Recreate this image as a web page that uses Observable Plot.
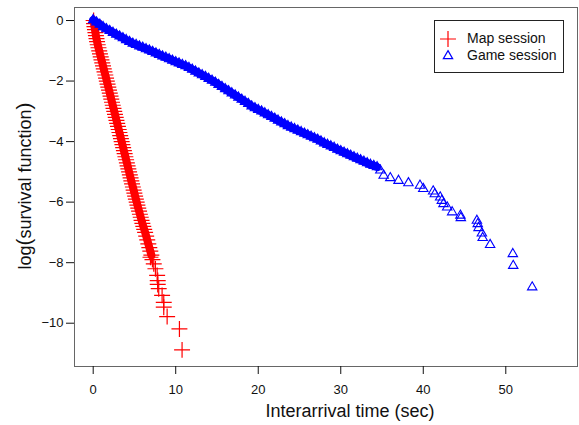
<!DOCTYPE html>
<html>
<head>
<meta charset="utf-8">
<script src="https://cdn.jsdelivr.net/npm/d3@7"></script>
<script src="https://cdn.jsdelivr.net/npm/@observablehq/plot@0.6"></script>
<style>
  html, body { margin: 0; padding: 0; background: #fff; }
  #wrap { position: relative; width: 579px; height: 425px; font-family: "Liberation Sans", Arial, Helvetica, sans-serif; }
  #legend { position: absolute; left: 434px; top: 20px; width: 128px; height: 51px; border: 1px solid #222; background: #fff; box-sizing: content-box; }
  #legend .row { position: absolute; left: 0; height: 16px; font-size: 14px; color: #111; white-space: nowrap; }
  #legend svg { position: absolute; left: 5px; top: 0; }
  #legend span { position: absolute; left: 32px; top: -1px; }
  #ytitle { position: absolute; left: 24px; top: 186px; transform: translate(-50%, -50%) rotate(-90deg); white-space: nowrap; font-size: 18px; color: #111; line-height: 22px; }
  #ytitle .paren { font-size: 21px; }
</style>
</head>
<body>
<div id="wrap"></div>
<script>
// Map session: (interarrival time, log survival)
const mapX = [0.05,0.10,0.15,0.21,0.27,0.33,0.40,0.47,0.55,0.64,0.73,0.82,0.91,1.00,1.10,1.19,1.28,1.37,1.47,1.56,
  1.65,1.74,1.83,1.92,2.01,2.10,2.19,2.28,2.37,2.46,2.55,2.64,2.73,2.82,2.91,3.00,3.09,3.18,3.27,3.36,
  3.45,3.54,3.63,3.72,3.81,3.90,3.99,4.08,4.17,4.26,4.35,4.44,4.53,4.62,4.71,4.81,4.90,4.99,5.08,5.17,
  5.27,5.36,5.46,5.56,5.66,5.76,5.86,5.96,6.07,6.18,6.29,6.42,6.55,6.68,6.80,6.92,7.05,6.94,7.18,7.34,
  7.54,7.75,7.82,7.82,7.94,8.35,8.55,8.55,8.96,10.45,10.77];
const mapY = [0.00,-0.10,-0.20,-0.30,-0.40,-0.50,-0.60,-0.70,-0.80,-0.90,-1.00,-1.10,-1.20,-1.30,-1.40,-1.50,-1.60,-1.70,-1.80,-1.90,
  -2.00,-2.10,-2.20,-2.30,-2.40,-2.50,-2.60,-2.70,-2.80,-2.90,-3.00,-3.10,-3.20,-3.30,-3.40,-3.50,-3.60,-3.70,-3.80,-3.90,
  -4.00,-4.10,-4.20,-4.30,-4.40,-4.50,-4.60,-4.70,-4.80,-4.90,-5.00,-5.10,-5.20,-5.30,-5.40,-5.50,-5.60,-5.70,-5.80,-5.90,
  -6.00,-6.10,-6.20,-6.30,-6.40,-6.50,-6.60,-6.70,-6.80,-6.90,-7.00,-7.12,-7.25,-7.38,-7.50,-7.62,-7.75,-7.82,-7.90,-8.04,
  -8.20,-8.42,-8.59,-8.72,-8.86,-9.08,-9.31,-9.47,-9.78,-10.19,-10.88];

// Game session
const gameX = [0.0,0.4,0.8,1.2,1.6,2.0,2.4,2.8,3.2,3.6,4.0,4.4,4.8,5.2,5.6,6.0,6.4,6.8,7.2,7.6,
  8.0,8.4,8.8,9.2,9.6,10.0,10.4,10.8,11.2,11.6,12.0,12.4,12.8,13.2,13.6,14.0,14.4,14.8,15.2,15.6,
  16.0,16.4,16.8,17.2,17.6,18.0,18.4,18.8,19.2,19.6,20.0,20.4,20.8,21.2,21.6,22.0,22.4,22.8,23.2,23.6,
  24.0,24.4,24.8,25.2,25.6,26.0,26.4,26.8,27.2,27.6,28.0,28.4,28.8,29.2,29.6,30.0,30.4,30.8,31.2,31.6,
  32.0,32.4,32.8,33.2,33.6,34.0,34.4,34.8,35.2,36.0,37.0,38.2,39.6,40.0,41.2,41.4,42.05,42.25,42.45,42.9,
  43.5,44.5,44.55,46.5,46.6,46.7,47.1,47.2,48.1,50.85,50.9,53.2];
const gameY = [0.02,-0.06,-0.13,-0.21,-0.28,-0.34,-0.40,-0.46,-0.52,-0.58,-0.64,-0.70,-0.76,-0.80,-0.85,-0.89,-0.94,-0.98,-1.03,-1.08,
  -1.13,-1.18,-1.22,-1.27,-1.32,-1.37,-1.41,-1.46,-1.50,-1.56,-1.62,-1.68,-1.74,-1.80,-1.86,-1.92,-1.98,-2.05,-2.12,-2.19,
  -2.26,-2.33,-2.40,-2.47,-2.54,-2.61,-2.68,-2.75,-2.83,-2.89,-2.95,-3.00,-3.06,-3.12,-3.18,-3.24,-3.30,-3.36,-3.42,-3.48,
  -3.53,-3.58,-3.63,-3.68,-3.73,-3.78,-3.83,-3.88,-3.93,-3.99,-4.05,-4.10,-4.15,-4.20,-4.26,-4.31,-4.36,-4.41,-4.46,-4.51,
  -4.56,-4.61,-4.66,-4.71,-4.76,-4.80,-4.84,-4.95,-5.12,-5.20,-5.29,-5.37,-5.45,-5.56,-5.64,-5.73,-5.84,-5.95,-6.06,-6.17,
  -6.33,-6.44,-6.52,-6.61,-6.72,-6.85,-7.03,-7.18,-7.41,-7.71,-8.10,-8.81];

const xTicks = [0, 10, 20, 30, 40, 50];
const yTicks = [0, -2, -4, -6, -8, -10];
const xTitle = "Interarrival time (sec)";
const yTitle = "log(survival function)";
const seriesNames = ["Map session", "Game session"];

const mapData = mapX.map((x, i) => ({x, y: mapY[i]}));
const gameData = gameX.map((x, i) => ({x, y: gameY[i]}));
// where the markers are so dense that they merge into a solid band
const mapDense = mapData.filter(d => d.y >= -7.75);
const gameDense = gameData.filter(d => d.x <= 34.4);

const fontFamily = '"Liberation Sans", Arial, Helvetica, sans-serif';
const minus = d => d3.format("d")(d);

const chart = Plot.plot({
  width: 579,
  height: 425,
  marginLeft: 74,
  marginRight: 2,
  marginTop: 7,
  marginBottom: 59,
  style: {fontFamily, fontSize: "13px", color: "#111", background: "#fff"},
  x: {domain: [-2.266, 58.69], label: null},
  y: {domain: [-11.43, 0.43], label: null},
  marks: [
    Plot.frame({stroke: "#666"}),
    Plot.axisX({ticks: xTicks, tickSize: 8, tickPadding: 10, tickFormat: minus, line: true, stroke: "#111", label: null}),
    Plot.axisY({ticks: yTicks, tickSize: 8, tickPadding: 3, tickFormat: minus, line: true, stroke: "#111", label: null}),
    Plot.line(mapDense, {x: "x", y: "y", stroke: "#ff0000", strokeWidth: 8, curve: "linear"}),
    Plot.dot(mapData, {x: "x", y: "y", symbol: "plus", r: 5.2, stroke: "#ff0000", fill: "none", strokeWidth: 1.2}),
    Plot.line(gameDense, {x: "x", y: "y", stroke: "#0000ff", strokeWidth: 8, curve: "linear"}),
    Plot.dot(gameData, {x: "x", y: "y", symbol: "triangle2", r: 4.5, stroke: "#0000ff", fill: "none", strokeWidth: 1.1}),
    Plot.text([xTitle], {frameAnchor: "bottom", dx: 24, dy: 45, fontSize: 18, fill: "#111", lineAnchor: "middle", textAnchor: "middle"})
  ]
});

const wrap = document.getElementById("wrap");
wrap.appendChild(chart);

// y-axis title, with the taller parentheses of the original
const yt = document.createElement("div");
yt.id = "ytitle";
const m = yTitle.match(/^([^(]*)\((.*)\)$/);
yt.innerHTML = `${m[1]}<span class="paren">(</span>${m[2]}<span class="paren">)</span>`;
wrap.appendChild(yt);

// Legend (inside the plot area, top right)
const legend = document.createElement("div");
legend.id = "legend";
const symbols = [
  {name: seriesNames[0], color: "#ff0000", type: d3.symbolPlus, size: 85},
  {name: seriesNames[1], color: "#0000ff", type: d3.symbolTriangle2, size: 62}
];
symbols.forEach((s, i) => {
  const row = document.createElement("div");
  row.className = "row";
  row.style.top = (10 + i * 17) + "px";
  row.style.width = "128px";
  const svg = d3.create("svg").attr("width", 16).attr("height", 16);
  svg.append("path")
    .attr("transform", "translate(8,8)")
    .attr("d", d3.symbol(s.type, s.size)())
    .attr("fill", "none")
    .attr("stroke", s.color)
    .attr("stroke-width", 1.2);
  row.appendChild(svg.node());
  const span = document.createElement("span");
  span.textContent = s.name;
  row.appendChild(span);
  legend.appendChild(row);
});
wrap.appendChild(legend);
</script>
</body>
</html>
